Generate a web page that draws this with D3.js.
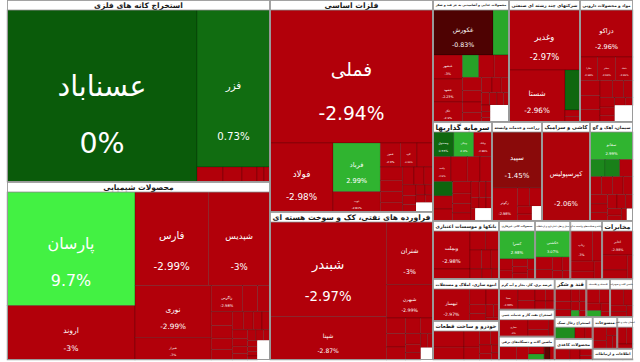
<!DOCTYPE html>
<html><head><meta charset="utf-8">
<script src="https://cdn.jsdelivr.net/npm/d3@7"></script>
<style>html,body{margin:0;padding:0;background:#fff;}svg{display:block;}</style>
</head><body>
<svg id="c" width="640" height="362"></svg>
<script>
const sectorNames = ["استخراج کانه های فلزی","محصولات شیمیایی","فلزات اساسی","فراورده های نفتی، کک و سوخت هسته ای","محصولات غذایی و آشامیدنی به جز قند و شکر","شرکتهای چند رشته ای صنعتی","مواد و محصولات دارویی","سرمایه گذاریها","زراعت و خدمات وابسته","کاشی و سرامیک","سیمان، آهک و گچ","بانکها و موسسات اعتباری","انبوه سازی، املاک و مستغلات","خودرو و ساخت قطعات","محصولات کانی غیرفلزی","حمل و نقل، انبارداری و ارتباطات","رایانه و فعالیت‌های وابسته به آن","مخابرات","عرضه برق، گاز، بخار و آب گرم","استخراج نفت گاز و خدمات جنبی","ماشین آلات و دستگاه‌های برقی","قند و شکر","لاستیک و پلاستیک","ماشین آلات و تجهیزات","استخراج زغال سنگ","محصولات کاغذی","منسوجات","انتشار، چاپ و تکثیر","اطلاعات و ارتباطات"];
const sectorSizes = [47866,46814,34556,24124,9272,8662,6466,5841,4950,4752,4257,3828,2772,2574,2100,2050,1850,1800,1700,1500,1300,1200,900,870,830,800,780,500,450];

const stockNames = [
 ["عسناباد","فزر","کچاد","کگل","کنور","کروی","کمنگنز"],
 ["پارسان","اروند","فارس","شپدیس","نوری","شیراز","زاگرس","شخارک","جم","شغدیر","مارون","","شاراک","شکلر","شفن","کرماشا","شیران","شبصیر","شگویا","شپترو","شصفها","شکربن","شسینا","شپاکسا","شفارس","شلعاب","شبریز","شاملا","شرنگی"],
 ["فملی","فولاد","فرباد","ذوب","فخوز","کاوه","فباهنر","فسرب","فنورد","فلوله","فجر","فسپا","فاسمین","فخاس","فروی","فزرین","فگستر","ارفع","فپنتا","فنوال","هرمز",""],
 ["شبندر","شپنا","شتران","شبهرن","شنفت","شاوان","شرانل","شپاس","شسپا","شلیا","شکام","شجم","شگل","شاپا",""],
 ["غکورش","غمینو","غبشهر","غشهد","غگل","غزر","غدام","غپاک","غمارگ","غسالم","غنوش","غصینو","غالبر","غچین","غبهنوش","غشاذر","غفارس","غپینو","غدشت","غگرجی","غنیلی","غشصفا",""],
 ["وغدیر","شستا","وصنا","ومعادن","وپترو"],
 ["دزاکو","دفارا","دجابر","دتماد","دسبحا","دلقما","دکیمی","دعبید","دپارس","دالبر","دسینا","داسوه","دکوثر","دشیمی","درازک",""],
 ["وصندوق","ونیکی","وبانک","وامید","وبوعلی","وسپه","وتوسم","وسکاب","وبهمن","وکار","وتوشه","واعتبار","وسبحان","وصنعت","وآتوس","ولساپا","وپویا","ولصنم","وپسا","وسنا","وملی",""],
 ["سپید","زکوثر","زماهان","زشریف","زقیام","زگلدشت",""],
 ["کپرسپولیس"],
 ["سفانو","سشمال","سبهان","ساروم","سصوفی","سخزر","سفار","سکرما","سدور","سهگمت","ساوه","سپاها","سغرب","سفارس","سیتا","سبزوا","سمازن",""],
 ["وبملت","وتجارت","وبصادر","وپست","وخاور","وسینا","وپاسار","وکارآفرین","ودی","وآیند"],
 ["ثبهساز","ثشرق","ثامان","ثنوسا","ثاخت","ثمسکن","ثفارس","ثعمرا"],
 ["خودرو","خساپا","خگستر","خپارس","خزامیا","خکاوه","خمحرکه","خاور","خریخت","خفنر"],
 ["کسرا","کساوه","کهمدا","کفرآور","کگاز","کلوند","کمینا","کسعدی"],
 ["حکشتی","حپارسا","حفارس","حتوکا","حریل","حآسا","حسینا"],
 ["رتاپ","سیستم","رافزا","رکیش","رپرداز"],
 ["اخابر","همراه","های وب","اسیاتک"],
 ["بمپنا","بکام","بفجر","بزاگرس","بسویچ","بترانس","بنیرو"],
 ["حفاری","کنفت","تنفت","وخدمات"],
 ["بشهاب","بالبر","بموتو","لابسا","بتک","بایکا"],
 ["قثابت","قشکر","قمرو","قنیشا","قشهد","قپیرا","قلرست","قزوین","قهکمت"],
 ["پکرمان","پتایر","پاسا","پدرخش","پکویر","پلاسک"],
 ["تپمپی","تکشا","تیپیکو","تایرا","تفارس"],
 ["کزغال","کطبس","کپرور"],
 ["چکاپا","چفیبر","چکارن","چدن"],
 ["نساز","نبروج","نطرین","نمرینو","نپاک"],
 ["چاپ","چکاوه","چافست"],
 ["اپرداز","رانفور","افق"]
];
const stockSizes = [
 [32680,11461,390,285,225,105,90],
 [14616,7000,6900,5796,4000,1700,820,400,330,290,270,250,240,220,200,180,160,145,130,120,110,100,90,80,70,60,50,45,40],
 [21679,4350,2300,960,480,400,384,300,256,240,220,200,180,160,140,120,100,90,80,70,60,160],
 [11000,5050,2930,1550,300,260,250,230,200,160,130,110,90,80,150],
 [2700,720,710,680,590,360,345,330,250,220,200,180,160,140,120,100,90,80,70,60,50,40,317],
 [4260,2912,600,100,80],
 [2491,414,414,414,300,280,250,220,190,160,140,120,100,80,60,303],
 [480,460,420,420,380,300,280,260,240,220,200,180,160,140,120,100,90,80,70,60,50,200],
 [2793,841,225,225,116,100,150],
 [4272],
 [1140,250,244,220,200,190,180,170,160,150,140,130,120,100,90,80,60,74],
 [1406,370,300,250,220,180,150,120,100,72],
 [1184,250,200,150,120,100,70,50],
 [500,400,250,200,150,120,100,80,60,54],
 [990,150,120,110,100,90,80,70],
 [840,200,150,120,100,80,60],
 [700,300,250,200,150],
 [800,400,250,150],
 [500,250,200,160,140,120,100],
 [600,250,180,120],
 [300,200,150,120,100,80],
 [300,200,180,150,130,110,90,80,70],
 [250,200,150,130,100,70],
 [300,200,150,120,100],
 [400,200,150],
 [300,200,150,100],
 [250,150,120,100,80],
 [200,150,100],
 [150,120,90]
];
const stockChanges = [
 [0,0.73,-2.95,-2.99,-2.9,-3,-2.8],
 [9.7,-3,-2.99,-3,-2.99,-3,-2.98,-3,-2.99,-2.97,-3,null,-2.95,-3,-2.9,-2.99,-3,-2.8,-2.96,-3,-2.9,-2.98,-3,-2.85,-2.99,-3,-2.9,-2.97,-3],
 [-2.94,-2.98,2.99,-2.81,-2.9,-2.99,-3,-2.95,-2.9,-3,-2.98,-2.9,-3,-2.97,-2.9,-3,-2.99,-2.9,-3,-2.95,-2.9,null],
 [-2.97,-2.87,-3,-2.99,-2.98,-2.9,-3,-2.95,-2.99,-2.9,-3,-2.8,-2.9,-3,null],
 [-0.83,2.6,-3,-2.23,-2.9,2.4,-2.98,-2.9,-3,-2.95,-2.99,-3,-2.9,-2.97,-3,-2.9,-2.99,-3,-2.8,-2.9,-3,-2.95,null],
 [-2.97,-2.96,0.5,-2.9,-3],
 [-2.96,-2.98,-2.99,-2.99,-2.9,-3,-2.95,-2.99,-3,-2.9,-2.97,-3,-2.9,-2.95,-3,null],
 [0.55,2.9,-2.98,-2.9,-2.95,-3,-2.9,0.4,-2.8,-3,-2.9,-2.99,-3,-2.9,-3,-2.8,-3,-2.9,-3,-2.9,-3,null],
 [-1.45,-2.98,-2.9,-3,-2.9,-3,null],
 [-2.06],
 [2.99,1.6,1.4,-2.98,-2.9,-3,-2.95,-2.99,-3,-2.9,-2.97,-3,-2.9,-2.99,-3,-2.9,-3,null],
 [-2.98,-2.99,-2.98,-2.99,-3,-2.9,-2.95,-3,-2.9,-2.97],
 [-2.97,-2.98,-2.9,-3,-2.95,-2.9,-3,-2.9],
 [-2.95,-2.98,-3,-2.9,-2.97,-3,-2.9,-2.99,-3,-2.9],
 [2.98,-2.98,-3,-2.9,-2.95,-3,-2.9,-2.99],
 [3.07,-2.98,-3,-2.9,-2.95,-3,-2.9],
 [-3,-2.98,-2.9,-3,-2.95],
 [-2.98,-2.99,-3,-2.9],
 [-2.99,-3,-2.9,-2.98,-3,-2.95,-2.9],
 [-3,-2.98,-2.9,-3],
 [-2.98,-3,-2.9,2.5,-1.0,-2.95],
 [-2.98,-3,-2.9,-2.95,-3,-2.9,-2.99,2.5,-3],
 [-2.98,-3,-2.9,2.6,-2.95,-3],
 [-3,-2.98,-2.9,-3,-2.95],
 [1.8,-2.9,-3],
 [-2.98,-3,-2.9,-2.95],
 [-3,-2.9,-2.98,-3,-2.95],
 [-2.9,-3,-2.95],
 [-2.98,-3,-2.9]
];

const X0 = 7, Y0 = 0, X1 = 633, Y1 = 360, HDR = 10;
const FONT = "'DejaVu Sans', sans-serif";
const svg = d3.select("#c");

const redScale = d3.scaleLinear().domain([-3, -2, -1.45, -0.83, 0])
  .range(["#b2000a", "#ae020a", "#8a0a0a", "#4e0202", "#300000"]).clamp(true);
const greenScale = d3.scaleLinear().domain([0, 1, 3, 10])
  .range(["#0a5b0a", "#137313", "#30b430", "#44f444"]).clamp(true);
function color(ch) {
  if (ch == null) return "#ffffff";
  return ch < 0 ? redScale(ch) : greenScale(ch);
}

const topRoot = d3.hierarchy({children: sectorNames.map((n, i) => ({name: n, idx: i, size: sectorSizes[i]}))})
  .sum(d => d.size || 0)
  .sort((a, b) => b.value - a.value);
d3.treemap().tile(d3.treemapSquarify).size([X1 - X0, Y1 - Y0])(topRoot);

const gCells = svg.append("g");
const gLabels = svg.append("g");
const gFrames = svg.append("g");
const gHeadText = svg.append("g");

const sectors = topRoot.leaves();
sectors.forEach(s => {
  const i = s.data.idx;
  const sx = s.x0 + X0, sy = s.y0 + Y0, sw = s.x1 - s.x0, sh = s.y1 - s.y0;
  const sub = d3.hierarchy({children: stockNames[i].map((n, j) => ({name: n, size: stockSizes[i][j], ch: stockChanges[i][j]}))})
    .sum(d => d.size || 0)
    .sort((a, b) => ((a.data.ch == null) - (b.data.ch == null)) || (b.value - a.value));
  d3.treemap().tile(d3.treemapSquarify).size([sw, Math.max(1, sh - HDR)])(sub);
  sub.leaves().forEach(c => {
    const x = sx + c.x0, y = sy + HDR + c.y0, w = c.x1 - c.x0, h = c.y1 - c.y0;
    gCells.append("rect").attr("x", x).attr("y", y).attr("width", w).attr("height", h)
      .attr("fill", color(c.data.ch))
      .attr("stroke", c.data.ch == null ? "none" : "rgba(0,0,0,0.32)").attr("stroke-width", 0.6);
    if (c.data.ch == null) return;
    const m = Math.min(w, h);
    let f = 0.14 * m + Math.max(0, m - 150) * 0.2;
    if (f < 2.3) return;
    const cx = x + w / 2;
    const t1 = gLabels.append("text").attr("x", cx).attr("y", y + h * 0.5)
      .attr("text-anchor", "middle").attr("fill", "#fff")
      .style("font-family", FONT).style("font-size", f + "px").text(c.data.name);
    const t2 = gLabels.append("text").attr("x", cx).attr("y", y + h * 0.83)
      .attr("text-anchor", "middle").attr("fill", "#fff")
      .style("font-family", FONT).style("font-size", f + "px").text((+c.data.ch) + "%");
    const maxLen = Math.max(t1.node().getComputedTextLength(), t2.node().getComputedTextLength());
    if (maxLen > w - 1) {
      const nf = f * (w - 1) / maxLen;
      if (nf < 1.6) { t1.remove(); t2.remove(); }
      else { t1.style("font-size", nf + "px"); t2.style("font-size", nf + "px"); }
    }
  });
  gFrames.append("rect").attr("x", sx + 0.5).attr("y", sy + 0.5).attr("width", sw - 1).attr("height", sh - 1)
    .attr("fill", "none").attr("stroke", "#9a9a9a").attr("stroke-width", 1);
  gFrames.append("rect").attr("x", sx + 0.5).attr("y", sy + 0.5).attr("width", sw - 1).attr("height", HDR - 0.5)
    .attr("fill", "#fff").attr("stroke", "#9a9a9a").attr("stroke-width", 0.8);
  const base = 7.6;
  const ht = gHeadText.append("text").attr("x", sx + sw / 2)
    .attr("text-anchor", "middle").attr("fill", "#1a1a1a")
    .style("font-family", FONT).style("font-weight", "bold").style("font-size", base + "px")
    .text(sectorNames[i]);
  const len = ht.node().getComputedTextLength();
  const avail = sw - 5;
  let hf = base;
  if (len > avail) hf = Math.max(2, base * avail / len);
  ht.style("font-size", hf + "px").attr("y", sy + 5.3 + hf * 0.36);
});
</script>
</body></html>
